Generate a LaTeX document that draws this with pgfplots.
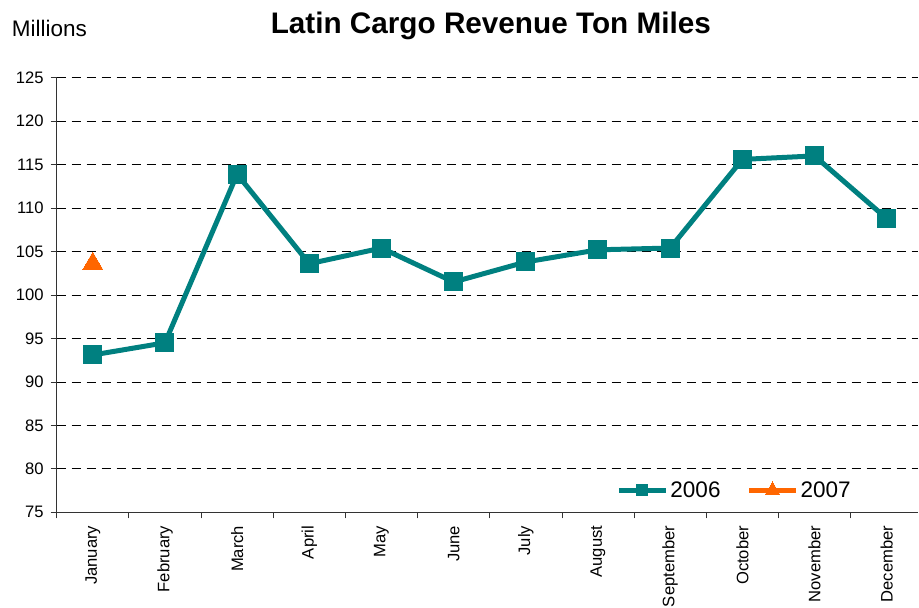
\documentclass[border=0pt]{standalone}
\usepackage{pgfplots}
\pgfplotsset{compat=1.18}
\usepackage{fontspec}
\setmainfont{Liberation Sans}
\definecolor{tealc}{RGB}{0,128,128}
\definecolor{orangec}{RGB}{255,102,0}
\begin{document}
\begin{tikzpicture}[x=1pt,y=1pt]
\useasboundingbox (0,0) rectangle (919,608);
\node[anchor=base] at (490.8,574.7) {\fontsize{29.7}{34}\selectfont\bfseries Latin Cargo Revenue Ton Miles};
\node[anchor=base west,inner sep=0pt] at (11.7,571.3) {\fontsize{22.5}{26}\selectfont Millions};
\begin{axis}[
  at={(56.7pt,95.7pt)}, anchor=south west,
  scale only axis, width=861.3pt, height=434.6pt,
  xmin=-0.5, xmax=11.434, ymin=75, ymax=125,
  axis lines=left, axis line style={-, line width=1pt, black!80},
  xtick={0,...,11},
  xticklabels={January,February,March,April,May,June,July,August,September,October,November,December},
  minor xtick={-0.5,0.5,...,11.5},
  major x tick style={draw=none},
  minor tick length=6pt,
  ytick={75,80,...,125},
  major tick length=6pt,
  tick align=outside,
  tick style={black!80, line width=0.8pt},
  ymajorgrids, grid style={black, dash pattern=on 9pt off 6pt, line width=0.8pt},
  /pgf/number format/assume math mode=true,
  ticklabel style={font=\fontsize{16.6}{20}\selectfont},
  xticklabel style={yshift=-4pt, rotate=90, anchor=east},
  yticklabel style={xshift=-3.5pt},
  clip=false,
  legend columns=2,
  legend style={draw=none, fill=none, at={(0.6462,0.0502)}, anchor=west,
    font=\fontsize{22.5}{26}\selectfont,
    /tikz/every even column/.append style={column sep=24pt}},
  legend image code/.code={\draw[#1] (0pt,0pt) -- (47pt,0pt);
    \draw[#1] plot coordinates {(23.5pt,0pt)};},
]
\addplot[color=tealc, line width=5pt, mark=square*, mark size=9pt, mark options={solid, fill=tealc, draw=tealc, line width=0pt},
  legend image post style={mark size=5.5pt}]
coordinates {(0,93.1) (1,94.5) (2,113.9) (3,103.6) (4,105.4) (5,101.5) (6,103.8) (7,105.2) (8,105.4) (9,115.6) (10,116.0) (11,108.8)};
\addlegendentry{2006}
\addplot[color=orangec, line width=5pt, mark=triangle*, mark size=11.5pt, mark options={solid, fill=orangec, draw=orangec, line width=0pt},
  legend image post style={mark size=8.5pt}]
coordinates {(0,103.6)};
\addlegendentry{2007}
\end{axis}
\end{tikzpicture}
\end{document}
